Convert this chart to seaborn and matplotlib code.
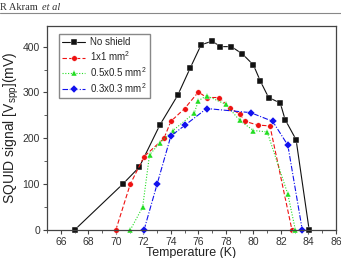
import numpy as np
import pandas as pd
import seaborn as sns
import matplotlib as mpl
import matplotlib.pyplot as plt
import matplotlib.ticker

sns.set_theme(style="ticks")
plt.rcParams["font.family"] = ["Liberation Sans", "DejaVu Sans"]
plt.rcParams["mathtext.default"] = "regular"

# values
t_noshield = [67.0, 70.5, 71.7, 73.2, 74.5, 75.4, 76.2, 77.0, 77.6, 78.4, 79.2,
              80.0, 80.5, 81.1, 81.95, 82.3, 83.1, 84.05]
v_noshield = [0, 100, 137, 229, 294, 353, 404, 412, 400, 400, 384,
              360, 325, 289, 277, 241, 197, 0]

t_1x1 = [70.0, 71.05, 72.05, 73.5, 74.0, 75.0, 76.0, 76.6, 77.5, 78.3, 79.0,
         79.4, 80.3, 81.2, 82.8]
v_1x1 = [0, 100, 160, 200, 237, 265, 301, 289, 289, 266, 253,
         237, 229, 227, 0]

t_05 = [71.05, 71.95, 72.45, 73.2, 74.15, 75.7, 76.0, 76.6, 78.0, 79.0, 80.0,
        81.0, 82.5, 83.05]
v_05 = [0, 50, 164, 190, 217, 255, 282, 293, 274, 239, 217,
        214, 78, 0]

t_03 = [72.05, 73.0, 74.0, 75.0, 76.6, 79.8, 81.4, 82.5, 83.55]
v_03 = [0, 100, 205, 228, 265, 256, 237, 185, 0]

series = ["No shield", "1x1 mm$^2$", "0.5x0.5 mm$^2$", "0.3x0.3 mm$^2$"]
temps = [t_noshield, t_1x1, t_05, t_03]
vals = [v_noshield, v_1x1, v_05, v_03]

df = pd.concat(
    [pd.DataFrame({"T": t, "V": v, "sample": s}) for s, t, v in zip(series, temps, vals)]
)

colors = ["#111111", "#ee1111", "#22dd22", "#1111ee"]
markers = ["s", "o", "^", "D"]
dashes = ["", (4, 2), (1, 1.5), (5, 1.5, 1, 1.5)]

fig = plt.figure(figsize=(3.41, 2.58), dpi=100)
ax = fig.add_axes([47 / 341, 28 / 258, 289 / 341, 204 / 258])

sns.lineplot(
    data=df,
    x="T",
    y="V",
    hue="sample",
    style="sample",
    hue_order=series,
    style_order=series,
    palette=colors,
    markers=markers,
    dashes=dashes,
    estimator=None,
    linewidth=0.8,
    markersize=4,
    markeredgewidth=0.3,
    clip_on=False,
    ax=ax,
)

ax.set_xlim(65, 86)
ax.set_ylim(0, 445)
ax.xaxis.set_major_locator(matplotlib.ticker.MultipleLocator(2))
ax.xaxis.set_minor_locator(matplotlib.ticker.MultipleLocator(1))
ax.yaxis.set_major_locator(matplotlib.ticker.MultipleLocator(100))
ax.yaxis.set_minor_locator(matplotlib.ticker.MultipleLocator(50))
ax.tick_params(which="major", length=3, width=0.8, labelsize=7.5, pad=2,
               color="#444444", labelcolor="#333333")
ax.tick_params(which="minor", length=2, width=0.6, color="#444444")
for sp in ax.spines.values():
    sp.set_color("#444444")
    sp.set_linewidth(0.9)

ax.set_xlabel("Temperature (K)", fontsize=9, labelpad=0, color="#222222")
ax.set_ylabel("SQUID signal [V$_{spp}$](mV)", fontsize=10, labelpad=1, color="#222222")

handles, labels = ax.get_legend_handles_labels()
ax.legend(handles, labels, loc="upper left", fontsize=7, frameon=True,
          fancybox=False, edgecolor="#888888", framealpha=1,
          handlelength=2.3, handletextpad=0.5, borderpad=0.35,
          labelspacing=0.2, bbox_to_anchor=(0.025, 0.985))

# page header
fig.text(0.0, 0.99, "R Akram", fontsize=7.5, family="Liberation Serif",
         va="top", ha="left", color="#333333")
fig.text(0.122, 0.99, "et al", fontsize=7.5, family="Liberation Serif",
         style="italic", va="top", ha="left", color="#333333")
fig.add_artist(mpl.lines.Line2D([0, 1], [0.951, 0.951], color="#888888",
                                linewidth=0.8, transform=fig.transFigure))

plt.savefig("out.png", dpi=100)
